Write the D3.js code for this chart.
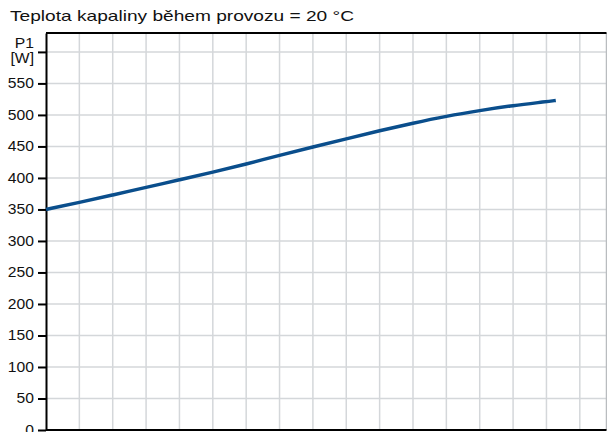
<!DOCTYPE html>
<html>
<head>
<meta charset="utf-8">
<script src="https://cdn.jsdelivr.net/npm/d3@7"></script>
<style>
  body { margin: 0; background: #fff; }
  svg { display: block; font-family: "Liberation Sans", Arial, sans-serif; }
</style>
</head>
<body>
<div id="chart-area"></div>
<script>
// Data (x in grid units, the x axis labels are cut off in the reference)
const flowSteps = [0, 1, 2, 3, 4, 5, 6, 7, 8, 9, 10, 11, 12, 13, 14, 15, 15.28]
const powerP1 = [350, 361, 373, 385, 397, 409, 422, 436, 449, 462, 475, 487, 498, 507, 515, 521, 523]
const yTicks = [0, 50, 100, 150, 200, 250, 300, 350, 400, 450, 500, 550, 600]
const xGrid = [1, 2, 3, 4, 5, 6, 7, 8, 9, 10, 11, 12, 13, 14, 15, 16]
const title = "Teplota kapaliny během provozu = 20 °C"

// Set up margins
const MARGINS = { TOP: 33, BOTTOM: 2, LEFT: 46, RIGHT: 0.5 }
const W = 607, H = 432
// text in the reference is a bit stretched sideways
const STRETCH = 1.12

const svg = d3.select("#chart-area").append("svg")
	.attr("width", W)
	.attr("height", H)

// Scales
const x = d3.scaleLinear()
	.domain([0, 16.8])
	.range([MARGINS.LEFT, W - MARGINS.RIGHT])

const y = d3.scaleLinear()
	.domain([0, 630])
	.range([H - MARGINS.BOTTOM, MARGINS.TOP])

// Title
svg.append("text")
	.attr("x", 10)
	.attr("y", 20.5)
	.attr("font-size", "14.5px")
	.attr("fill", "#111")
	.attr("textLength", 344)
	.attr("lengthAdjust", "spacingAndGlyphs")
	.text(title)

// Grid
const grid = svg.append("g")
	.attr("stroke", "#d4d7da")
	.attr("stroke-width", 1.5)

grid.selectAll(".vgrid").data(xGrid).enter().append("line")
	.attr("x1", d => x(d)).attr("x2", d => x(d))
	.attr("y1", y.range()[1]).attr("y2", y.range()[0])

grid.selectAll(".hgrid").data(yTicks.filter(d => d > 0)).enter().append("line")
	.attr("x1", x.range()[0]).attr("x2", x.range()[1])
	.attr("y1", d => y(d)).attr("y2", d => y(d))

// right border
svg.append("line")
	.attr("x1", x.range()[1]).attr("x2", x.range()[1])
	.attr("y1", y.range()[1]).attr("y2", y.range()[0])
	.attr("stroke", "#b9bcbf")
	.attr("stroke-width", 1.5)

// top and bottom frame
svg.append("line")
	.attr("x1", x.range()[0]).attr("x2", x.range()[1])
	.attr("y1", y.range()[1]).attr("y2", y.range()[1])
	.attr("stroke", "#000").attr("stroke-width", 2)

svg.append("line")
	.attr("x1", x.range()[0]).attr("x2", x.range()[1])
	.attr("y1", y(0)).attr("y2", y(0))
	.attr("stroke", "#000").attr("stroke-width", 2)

// Y axis
const yAxisCall = d3.axisLeft(y)
	.tickValues(yTicks)
	.tickSize(8)
	.tickSizeOuter(0)
	.tickPadding(4)
	.tickFormat(d => d === 600 ? "" : d)

const yAxis = svg.append("g")
	.attr("transform", `translate(${MARGINS.LEFT}, 0)`)
	.call(yAxisCall)

yAxis.select(".domain").attr("stroke", "#000").attr("stroke-width", 2)
yAxis.selectAll(".tick line").attr("stroke", "#000").attr("stroke-width", 2)
yAxis.selectAll(".tick text")
	.attr("x", -12 / STRETCH)
	.attr("transform", `scale(${STRETCH},1)`)
	.attr("font-size", "14px")
	.attr("fill", "#111")
	.attr("font-family", "Liberation Sans, Arial, sans-serif")

// unit label
const unit = svg.append("g")
	.attr("transform", `translate(34, 0) scale(${STRETCH},1)`)
	.attr("text-anchor", "end")
	.attr("font-size", "14px")
	.attr("fill", "#111")
unit.append("text").attr("y", 48).text("P1")
unit.append("text").attr("y", 63).text("[W]")

// Curve
const line = d3.line()
	.x((d, i) => x(flowSteps[i]))
	.y(d => y(d))
	.curve(d3.curveBasis)

svg.append("path")
	.datum(powerP1)
	.attr("fill", "none")
	.attr("stroke", "#0a4e8c")
	.attr("stroke-width", 3.5)
	.attr("d", line)
</script>
</body>
</html>
